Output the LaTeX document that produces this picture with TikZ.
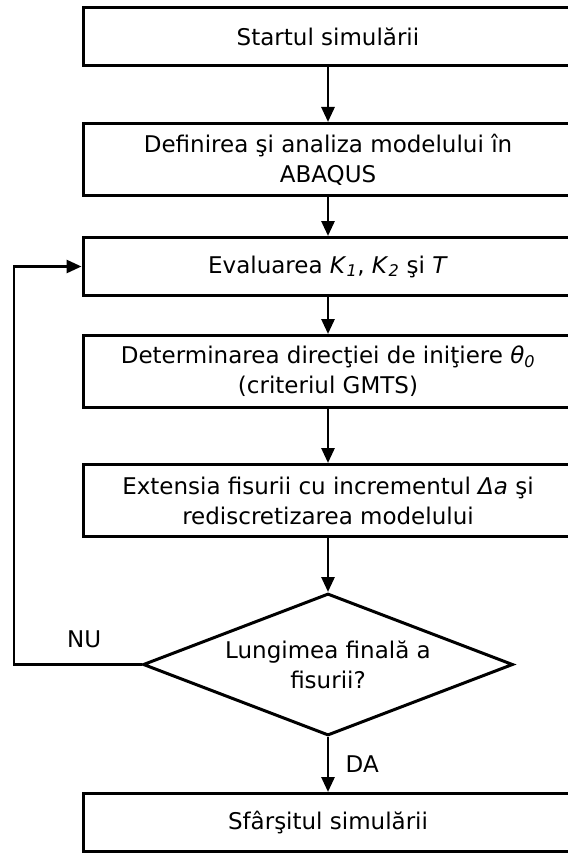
\documentclass[tikz,border=0pt]{standalone}
\usepackage{fontspec}
\setmainfont{DejaVu Sans}
\usetikzlibrary{arrows.meta, positioning, shapes.geometric}

\begin{document}
\begin{tikzpicture}[
    x=1pt, y=1pt,
    box/.style={rectangle, draw=black, fill=white, line width=3pt, minimum width=490pt, minimum height=58pt, align=center, inner sep=2pt, font=\fontsize{23}{30}\selectfont},
    tallbox/.style={box, minimum height=72pt},
    decision/.style={diamond, draw=black, fill=white, line width=3pt, shape aspect=2.6, minimum width=370pt, minimum height=142pt, inner sep=0pt, align=center, font=\fontsize{23}{30}\selectfont},
    line/.style={draw=black, line width=2.8pt, -{Triangle[length=15pt, width=13pt]}},
    answer/.style={font=\fontsize{23}{30}\selectfont}
]
    \useasboundingbox (0,0) rectangle (567,-853);

    % Main chain of steps
    \node[box] (start) at (328,-36.5) {Startul simulării};
    \node[tallbox, below=55pt of start] (model) {Definirea şi analiza modelului în\\ABAQUS};
    \node[box, below=39pt of model] (eval) {Evaluarea \textit{K}\textsubscript{\textit{1}}, \textit{K}\textsubscript{\textit{2}} şi \textit{T}};
    \node[tallbox, below=37pt of eval] (dir) {Determinarea direcţiei de iniţiere \textit{θ}\textsubscript{\textit{0}}\\(criteriul GMTS)};
    \node[tallbox, below=54pt of dir] (ext) {Extensia fisurii cu incrementul \textit{Δa} şi\\rediscretizarea modelului};
    \node[decision, below=54pt of ext] (check) {Lungimea finală a\\fisurii?};
    \node[box, below=55pt of check] (final) {Sfârşitul simulării};

    % Connections
    \draw[line] (start) -- (model);
    \draw[line] (model) -- (eval);
    \draw[line] (eval) -- (dir);
    \draw[line] (dir) -- (ext);
    \draw[line] (ext) -- (check);
    \draw[line] (check.south) -- node[right=13pt, answer] {DA} (final.north);

    % Loop back
    \coordinate (back) at (14,0 |- check.west);
    \draw[line] (check.west) -- node[pos=0.45, above=12pt, answer] {NU} (back) |- (eval.west);
\end{tikzpicture}
\end{document}
